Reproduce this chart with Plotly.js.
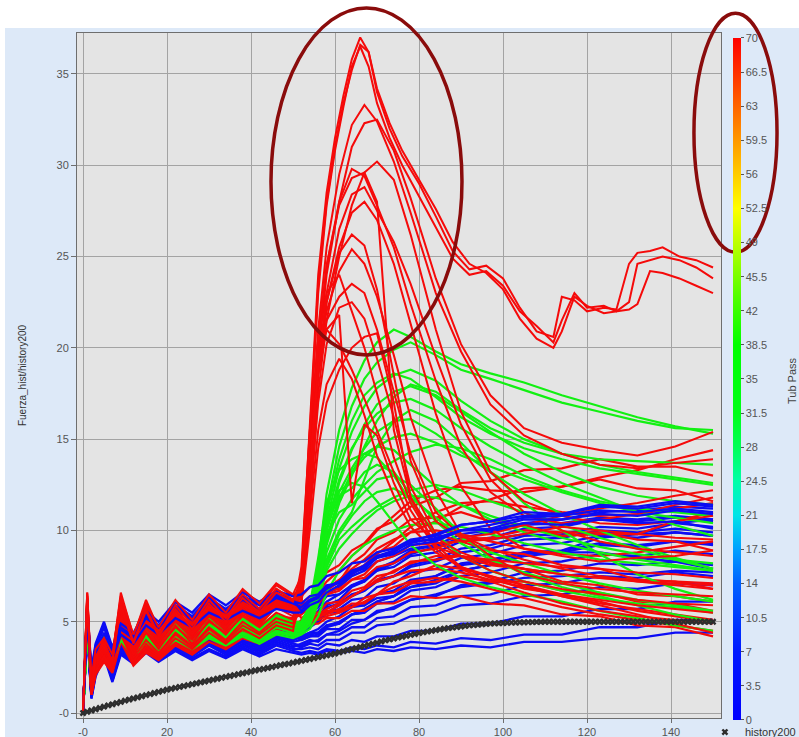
<!DOCTYPE html>
<html><head><meta charset="utf-8">
<script src="https://cdn.plot.ly/plotly-3.0.1.min.js"></script>
<style>html,body{margin:0;padding:0;background:#fff}</style>
</head><body><div id="chart" style="width:799px;height:737px"></div>
<script>
// shared sample grid for most cases
const X_MAIN = [0,1,2,3,5,7,9,12,15,18,22,26,30,34,38,42,46,50,52,54,56,58,61,64,67,70,74,78,84,90,97,105,114,123,132,141,150];
// finer grid for the three plateau cases
const X_PLATEAU = [0,1,2,3,5,7,9,12,15,18,22,26,30,34,38,42,46,50,52,54,56,58,60,62,64,66,68,70,73,76,80,84,88,92,96,100,104,108,112,114,117,120,124,127,130,132,135,138,142,146,150];

const RED_PLATEAU_CASES = [
 [0,6.6,1.9,3.5,4.1,3.2,6.4,4.3,6.0,4.7,6.2,5.1,6.5,5.5,6.8,6.0,7.1,6.5, 7.5,16,24,28.5,31.5,33.8,35.8,37,36.2,34,32,30.5,29,27.2,25.3,24.3,24.5,23.8,22.2,20.9,20.6,22.8,22.6,22,22.2,22.1,24.6,25.2,25.3,25.5,25,24.8,24.4],
 [0,6.4,1.5,3.1,3.8,2.9,6.0,3.9,5.7,4.3,5.9,4.8,6.2,5.2,6.5,5.7,6.8,6.2, 7,15,23,27.8,30.8,33.2,35.4,36.5,35.4,33.4,31.5,30,28.3,26.6,24.9,24,24.2,23.4,22,21.2,20.3,21.5,23,22.2,22.3,22,22.5,24.6,24.8,25,24.8,24.4,23.8],
 [0,6.1,1.3,3.0,3.6,2.8,5.9,3.8,5.6,4.2,5.7,4.6,6.0,5.0,6.3,5.5,6.6,6.1, 7.2,15.5,23.5,28,31,33.4,35.2,36.6,36.2,34.2,32.3,30.8,29.2,27.6,25.8,24.6,24.1,23.2,21.6,20.5,20,20.9,22.8,22.3,21.9,22,22.1,22.4,24.2,24.1,23.8,23.4,23]
];

const RED_PEAK_CASES = [
 [0,6.6,1.6,3.4,4.0,3.0,6.6,4.2,6.2,4.6,6.1,5.0,6.4,5.4,6.7,5.9,7.0,6.4, 7,14,21,25.5,29.5,32.2,33.3,32.4,30.2,27.4,23,19.8,16.9,15.2,14.2,13.6,13.4,13.7,13.9],
 [0,6.2,1.2,2.9,3.6,2.7,5.8,3.6,5.4,4.1,5.6,4.5,5.9,5.1,6.2,5.5,6.5,6.0, 6.5,12.5,19.5,24,28,31,32.3,32.5,30.8,28.2,23.8,20.2,17.4,15.6,14.8,14.4,14.1,14.6,15.4],
 [0,5.8,1.5,2.6,3.3,2.5,4.9,3.1,4.4,3.5,4.8,3.8,5.1,4.3,5.4,4.8,5.8,5.3, 6.8,13,20,24.5,28,29.8,29.4,27.8,25.5,22.4,18.2,14.6,12.1,10.8,10.4,10.6,10.9,11.4,11.8],
 [0,6.4,2.0,3.1,3.8,3.3,6.1,3.9,5.8,4.4,5.3,4.7,6.0,5.0,5.7,5.3,6.2,5.8, 6,11,17.5,21.5,25,27.8,29.6,30.2,29.2,26.2,21,16.5,13.2,11.6,10.8,10.4,10.3,10.5,10.8],
 [0,5.5,1.1,2.4,3.0,2.4,4.4,2.9,3.6,3.1,4.1,3.5,4.4,3.8,4.6,4.1,4.8,4.5, 6.9,13.5,20.5,24.5,27.8,29.3,29.6,28,15.5,11.8,9.6,8.8,8.2,7.9,7.6,7.4,7.2,7.1,7.0],
 [0,6.0,1.4,3.2,3.9,2.9,6.3,4.0,5.6,4.3,5.8,4.6,6.1,5.2,6.4,5.6,6.6,6.2, 6.4,12,18.5,22.5,25.5,27.4,28,27,24.6,21.3,16.4,12.4,10.1,9,8.6,8.3,8.5,8.6,8.9],
 [0,6.5,1.8,3.0,3.5,2.6,5.2,3.4,4.9,3.8,5.2,4.2,5.5,4.6,5.9,5.0,6.1,5.7, 7.2,14,19.5,22,24.2,25.4,24.6,22.8,19.6,16.2,12.2,9.8,8.6,7.6,7.1,6.8,6.6,6.5,6.4],
 [0,5.9,1.3,2.7,3.4,2.8,5.5,3.5,5.1,4.0,5.4,4.4,5.7,4.8,6.0,5.2,6.3,5.9, 7.5,15,20.5,23,24,22,20,17.5,14,11.5,9.2,8,7.4,6.8,6.5,6.2,5.9,5.7,5.5],
 [0,6.3,1.7,3.3,3.7,3.1,5.9,3.8,5.5,4.2,5.5,4.8,5.8,5.0,6.1,5.4,6.4,5.8, 6.7,13,18.5,21,21.8,11.5,15.8,15.2,12.6,10.6,9.4,8.6,7.8,7.2,6.8,6.5,6.2,6,5.9],
 [0,6.1,1.4,2.8,3.6,2.7,5.0,3.3,4.7,3.7,5.0,4.1,5.3,4.5,5.6,4.9,5.9,5.5, 8,15.5,19.8,21,20.2,18.8,17.2,15.5,13.2,11.1,9,7.9,7.2,6.6,6,5.6,5.3,5.1,4.9],
 [0,5.7,1.2,2.5,3.2,2.6,4.6,3.0,4.0,3.3,4.4,3.7,4.7,4.0,5.0,4.4,5.2,4.9, 6.2,11,15.5,18,19.4,18.3,16.3,14.1,11.9,10.2,8.8,8,7.5,7,6.4,5.9,5.4,4.9,4.4],
 [0,6.0,1.5,3.0,3.7,2.8,5.7,3.7,5.3,4.0,5.5,4.4,5.8,4.9,6.0,5.3,6.3,5.9, 6.6,12.5,18.5,22.5,25.2,26.2,25.6,23.2,18.5,13.8,10.5,9.6,9.8,10.3,10.8,11.2,11.5,11.9,12.2],
 [0,5.6,1.3,2.6,3.4,2.5,4.8,3.2,4.5,3.6,4.7,4.0,5.0,4.4,5.3,4.7,5.5,5.1, 6.3,11.5,17,20.2,22.2,22.5,21.6,19.4,16.2,12.4,9.8,9.4,9.5,9.8,10.2,10,9.8,9.6,9.5],
 [0,5.4,1.1,2.3,3.1,2.4,4.3,2.8,3.8,3.2,4.3,3.6,4.6,3.9,4.8,4.3,5.0,4.7, 6,10,14.5,17,18.8,20,20.6,20.8,17,11.8,9.1,8.6,8.4,8.2,8,7.9,7.7,7.6,7.4],
 [0,6.3,1.6,3.3,3.9,3.1,6.2,4.1,5.9,4.5,5.9,4.9,6.2,5.3,6.5,5.7,6.8,6.2, 6.5,12,19,23,26.5,28.4,28.8,27.5,25.8,23.5,19.5,15.8,12.8,11,10,9.4,9,8.8,8.6],
 [0,5.9,1.4,2.8,3.5,2.7,5.3,3.5,5.0,3.9,5.1,4.3,5.4,4.7,5.7,5.1,6.0,5.6, 7,13.5,19,21.5,22.8,23.5,23,21,17.6,14.2,11,9.7,9,8.4,7.9,7.5,7.2,7,6.8]
];

const RED_RISE_CASES = [
 [0,6.0,1.7,3.1,3.7,3.0,5.6,3.8,5.2,4.2,5.4,4.6,5.7,5.0,6.0,5.4,6.2,6.0, 6.4,6.9,7.1,7.7,8.1,8.9,9.3,10.1,10.5,11.3,11.8,12.6,12.7,13.3,13.4,13.9,13.5,13.5,13.0],
 [0,5.6,1.3,2.7,3.4,2.6,4.9,3.3,4.6,3.7,4.9,4.1,5.2,4.5,5.5,4.9,5.8,5.6, 6,6.4,6.5,6.9,7.2,7.8,8.1,8.8,9.1,9.9,10.5,11.3,11.7,12.3,12.4,12.8,12.3,12.2,11.6],
 [0,5.9,1.5,2.9,3.6,2.9,5.3,3.6,5.0,4.0,5.2,4.4,5.5,4.8,5.8,5.2,6.0,5.7, 5.9,6.2,6.2,6.7,6.8,7.3,7.4,8.0,8.2,8.8,9.0,9.5,9.6,10.0,9.9,9.9,9.5,9.4,8.9],
 [0,5.3,1.0,2.2,2.9,2.3,4.1,2.7,3.5,3.0,3.9,3.4,4.2,3.7,4.4,4.0,4.7,4.6, 5.1,5.3,5.3,5.6,5.6,6.0,6.0,6.5,6.6,7.1,7.2,7.5,7.2,7.2,6.7,6.6,6.1,6.0,5.6],
 [0,5.1,1.0,2.1,2.8,2.2,3.9,2.6,3.3,2.9,3.7,3.2,3.9,3.5,4.1,3.8,4.3,4.4, 4.7,4.9,4.9,5.2,5.2,5.6,5.6,6.0,6.0,6.4,6.3,6.4,6.0,5.9,5.4,5.3,4.8,4.7,4.2],
 [0,5.7,1.4,2.8,3.5,2.8,5.1,3.5,4.8,3.9,5.0,4.3,5.3,4.7,5.6,5.0,5.8,5.5, 5.6,5.9,6.0,6.5,6.7,7.3,7.6,8.3,8.6,9.2,9.3,9.4,8.9,8.7,8.1,7.9,7.3,7.2,6.8],
 [0,5.5,1.2,2.6,3.3,2.6,4.7,3.2,4.3,3.6,4.6,4.0,4.9,4.3,5.1,4.6,5.3,5.2, 5.4,5.8,6.0,6.7,7.2,8.2,8.7,9.5,9.9,10.6,10.7,11.0,10.5,10.3,9.7,9.8,9.8,10.5,11.0],
 [0,5.8,1.6,3.0,3.6,2.9,5.4,3.7,5.1,4.1,5.3,4.5,5.6,4.9,5.9,5.3,6.1,5.8, 5.2,5.5,5.5,6.0,6.1,6.7,6.9,7.5,7.7,8.3,8.4,8.6,8.1,7.9,7.2,7.0,6.5,6.4,6.1],
 [0,5.4,1.1,2.4,3.1,2.5,4.5,3.0,4.0,3.4,4.4,3.8,4.7,4.1,4.9,4.4,5.1,5.0, 5.0,5.1,5.3,5.4,5.7,5.8,6.3,6.5,7.2,7.5,8.1,7.9,7.5,7.0,6.5,6.1,5.6,5.3,5.0],
 [0,5.6,1.4,2.8,3.5,2.8,5.0,3.4,4.7,3.8,5.0,4.2,5.3,4.6,5.6,5.0,5.8,5.5, 5.8,6.2,6.6,7.2,7.8,8.6,9.2,10.0,10.8,11.6,12.2,12.4,12.2,12.1,12.4,12.9,13.3,13.9,14.4],
 [0,5.9,1.6,3.0,3.7,3.0,5.5,3.7,5.2,4.1,5.4,4.5,5.7,4.9,6.0,5.3,6.2,5.9, 5.7,6.0,6.3,6.8,7.3,7.9,8.4,9.0,9.5,9.9,10.0,9.8,9.4,9.0,8.7,8.6,8.8,9.1,9.4],
 [0,5.2,1.0,2.2,2.9,2.3,4.0,2.7,3.4,3.0,3.8,3.3,4.1,3.6,4.3,3.9,4.6,4.5, 4.8,5.0,5.2,5.5,5.9,6.4,6.8,7.3,7.8,8.2,8.6,8.6,8.3,7.9,7.6,7.4,7.3,7.2,7.1],
 [0,5.4,1.2,2.5,3.2,2.5,4.4,2.9,3.9,3.3,4.3,3.7,4.6,4.0,4.8,4.3,5.0,4.8, 5.0,5.2,5.4,5.7,6.0,6.4,6.8,7.2,7.5,7.8,7.9,7.7,7.3,6.9,6.4,6.0,5.7,5.4,5.1],
 [0,5.7,1.5,2.9,3.6,2.9,5.2,3.5,4.9,3.9,5.1,4.3,5.4,4.7,5.7,5.1,5.9,5.6, 5.5,5.8,6.1,6.5,7.0,7.6,8.1,8.7,9.4,10.2,11.0,11.5,11.6,11.3,11.0,10.8,10.9,11.2,11.5],
 [0,5.3,1.1,2.3,3.0,2.4,4.2,2.8,3.7,3.1,4.0,3.5,4.3,3.8,4.5,4.1,4.8,4.7, 4.9,5.0,5.1,5.3,5.5,5.8,6.1,6.5,6.9,7.2,7.4,7.2,6.8,6.3,5.8,5.4,5.1,4.8,4.5]
];

const GREEN_CASES = [
 [0,5.2,2.1,3.4,4.0,3.3,4.7,3.7,4.6,3.9,4.8,4.2,4.9,4.4,5.1,4.6,5.2,4.9, 5.0,5.8,8.2,12,15.5,17.8,19.3,20.3,21.0,20.6,19.8,19.1,18.6,18.1,17.4,16.8,16.2,15.7,15.3],
 [0,4.8,1.8,3.0,3.7,3.0,4.4,3.5,4.3,3.7,4.5,3.9,4.6,4.1,4.7,4.3,4.9,4.6, 4.8,5.5,7.8,11.2,14.6,16.8,18.3,19.2,19.9,20.3,19.6,18.8,18.3,17.7,17.0,16.5,16.0,15.6,15.5],
 [0,5.0,2.3,3.6,4.2,3.5,5.0,3.9,4.9,4.1,5.0,4.4,5.2,4.6,5.3,4.8,5.4,5.0, 4.9,5.6,7.5,10.5,13.4,15.4,16.8,17.8,18.5,18.8,18.2,17.1,16.0,15.0,14.2,13.6,13.2,12.9,12.6],
 [0,4.6,1.6,2.9,3.5,2.9,4.2,3.3,4.0,3.5,4.2,3.7,4.3,3.9,4.4,4.0,4.5,4.3, 4.7,5.3,7.2,10.2,12.8,14.5,15.6,16.4,17.0,17.2,16.6,15.6,14.6,13.6,12.6,11.8,11.0,10.3,9.7],
 [0,4.9,2.0,3.2,3.9,3.1,4.6,3.6,4.4,3.8,4.6,4.0,4.7,4.2,4.9,4.4,5.0,4.7, 4.6,5.2,6.8,9.6,11.8,13.1,14.0,14.6,15.1,15.3,14.8,14.1,13.5,12.8,12.1,11.5,11.0,10.7,10.4],
 [0,5.1,2.2,3.5,4.1,3.4,4.9,3.8,4.7,4.0,4.9,4.3,5.0,4.5,5.2,4.7,5.3,5.0, 5.0,5.9,8.5,11.5,13.3,13.9,14.2,14.0,13.0,11.6,9.8,8.6,7.8,7.2,6.7,6.3,6.0,5.8,5.5],
 [0,4.7,1.7,3.0,3.6,2.9,4.3,3.4,4.1,3.6,4.3,3.8,4.4,4.0,4.6,4.1,4.7,4.4, 4.5,5.0,6.4,8.8,10.6,11.7,12.5,13.2,13.8,14.3,14.7,14.5,13.9,13.0,12.2,11.6,11.2,11.0,10.8],
 [0,5.0,2.1,3.3,4.0,3.2,4.8,3.7,4.5,3.9,4.7,4.1,4.8,4.3,5.0,4.5,5.1,4.8, 4.8,5.4,7.0,9.8,11.0,11.4,12.1,12.8,13.0,12.5,11.2,9.8,8.5,7.6,6.9,6.4,5.9,5.4,5.0],
 [0,4.5,1.5,2.8,3.4,2.8,4.1,3.2,3.9,3.4,4.1,3.6,4.2,3.8,4.3,3.9,4.4,4.2, 4.4,4.8,6.0,8.0,9.5,10.2,10.8,11.3,11.8,12.2,12.5,12.2,11.6,11.0,10.3,9.6,9.0,8.4,7.9],
 [0,4.9,1.9,3.2,3.8,3.1,4.5,3.6,4.4,3.7,4.5,4.0,4.7,4.2,4.8,4.4,5.0,4.6, 4.7,5.2,6.4,8.4,10.0,11.0,12.8,14.6,16.0,16.6,16.0,14.8,13.2,11.5,10.0,8.7,7.6,6.8,6.2],
 [0,4.4,1.4,2.7,3.3,2.7,4.0,3.1,3.8,3.3,4.0,3.5,4.1,3.7,4.2,3.8,4.3,4.1, 4.3,4.6,5.3,6.6,7.8,8.6,9.2,9.6,10.0,10.3,10.4,10.2,9.8,9.3,8.8,8.4,8.2,8.0,7.8],
 [0,5.0,2.2,3.4,4.1,3.3,4.8,3.8,4.6,4.0,4.8,4.2,4.9,4.4,5.1,4.6,5.2,4.9, 4.9,5.7,7.9,10.8,12.2,12.6,12.4,11.6,10.4,9.2,8.1,7.4,6.9,6.5,6.1,5.6,5.2,4.8,4.5],
 [0,4.7,1.8,3.1,3.7,3.0,4.4,3.5,4.2,3.6,4.4,3.9,4.5,4.0,4.7,4.2,4.8,4.5, 4.6,5.1,6.7,9.2,11.5,13.0,14.6,16.0,17.3,18.0,17.6,16.6,15.6,14.8,14.2,13.9,13.8,13.7,13.6],
 [0,4.8,1.9,3.1,3.8,3.1,4.5,3.5,4.3,3.8,4.5,4.0,4.6,4.2,4.8,4.3,4.9,4.6, 4.6,5.0,6.2,8.2,9.8,10.8,11.6,12.1,12.3,11.8,10.7,9.6,8.8,8.2,7.6,7.1,6.7,6.4,6.1],
 [0,4.6,1.7,3.0,3.6,3.0,4.3,3.4,4.1,3.6,4.3,3.8,4.4,4.0,4.6,4.1,4.7,4.4, 4.5,5.3,7.6,10.9,13.9,16.0,17.4,18.1,18.6,18.3,17.3,16.2,15.3,14.5,13.9,13.4,13.1,12.8,12.5],
 [0,5.1,2.0,3.3,4.0,3.2,4.7,3.6,4.5,3.9,4.7,4.1,4.8,4.3,5.0,4.5,5.1,4.8, 4.9,5.6,7.4,10.0,12.1,13.4,14.5,15.4,16.0,16.1,15.3,14.3,13.2,12.0,10.9,10.0,9.2,8.5,7.9],
 [0,4.9,1.9,3.2,3.8,3.1,4.5,3.5,4.3,3.7,4.5,3.9,4.6,4.1,4.8,4.3,4.9,4.6, 4.7,5.4,7.3,10.4,11.9,12.3,13.2,13.6,13.2,12.0,10.5,9.3,8.4,7.7,7.1,6.6,6.2,5.9,5.6],
 [0,4.7,1.8,3.1,3.7,3.0,4.4,3.4,4.2,3.6,4.4,3.8,4.5,4.0,4.7,4.2,4.8,4.5, 4.6,5.2,7.0,10.0,12.6,14.4,15.8,16.9,17.6,17.9,17.4,16.5,15.4,14.2,13.2,12.4,11.9,11.6,11.4],
 [0,5.0,2.0,3.3,3.9,3.2,4.6,3.6,4.4,3.8,4.6,4.0,4.7,4.2,4.9,4.4,5.0,4.7, 4.7,5.1,6.2,7.8,9.0,9.8,10.5,11.1,11.6,11.9,11.8,11.4,10.8,10.2,9.6,9.1,8.7,8.4,8.2],
 [0,4.5,1.6,2.9,3.5,2.9,4.2,3.3,4.0,3.5,4.2,3.7,4.3,3.9,4.4,4.0,4.5,4.3, 4.4,5.0,6.8,9.4,11.6,13.2,14.2,14.6,14.4,13.6,12.4,11.4,10.6,9.9,9.3,8.8,8.4,8.1,7.8]
];

// blue cases that run along the bottom of the band before the jump
const BLUE_LOW_CASES = [
 [0,5.2,1.3,2.7,3.8,2.2,3.9,3.4,4.1,3.6,4.3,3.8,4.5,4.0,4.6,4.2,4.8,4.6, 5.0,5.5,5.8,6.4,6.5,7.0,7.2,7.8,8.0,8.6,8.8,9.4,9.6,10.1,10.2,10.6,10.5,10.7,10.5],
 [0,5.0,1.2,2.6,3.7,2.1,3.8,3.3,3.9,3.5,4.1,3.7,4.3,3.9,4.4,4.1,4.6,4.4, 4.7,5.1,5.3,5.8,6.0,6.5,6.7,7.3,7.5,8.1,8.4,9.0,9.2,9.7,9.8,10.2,10.1,10.4,10.2],
 [0,4.9,1.1,2.5,3.6,2.0,3.7,3.2,3.8,3.3,3.9,3.5,4.1,3.7,4.2,3.9,4.4,4.2, 4.5,4.8,5.0,5.5,5.7,6.2,6.3,6.9,7.1,7.7,7.9,8.5,8.7,9.2,9.3,9.7,9.6,9.9,9.7],
 [0,4.8,1.0,2.4,3.5,1.9,3.6,3.1,3.7,3.2,3.8,3.4,4.0,3.6,4.1,3.8,4.3,4.0, 4.2,4.4,4.6,5.0,5.3,5.8,5.9,6.5,6.7,7.3,7.5,8.1,8.3,8.8,8.9,9.3,9.2,9.4,9.2],
 [0,4.9,1.0,2.4,3.5,1.9,3.6,3.1,3.7,3.2,3.8,3.3,3.9,3.4,4.0,3.6,4.1,3.9, 4.0,4.2,4.3,4.7,4.9,5.4,5.5,6.0,6.1,6.7,6.9,7.5,7.7,8.2,8.3,8.7,8.6,8.9,8.7],
 [0,4.9,1.1,2.5,3.7,2.1,3.6,3.2,3.9,3.5,4.1,3.7,4.3,3.9,4.4,4.1,4.4,4.2, 4.0,4.2,4.2,4.6,4.6,5.1,5.1,5.6,5.7,6.2,6.4,7.0,7.2,7.7,7.8,8.2,8.1,8.3,8.1],
 [0,4.8,0.9,2.3,3.4,1.8,3.5,3.0,3.6,3.1,3.7,3.2,3.8,3.3,3.8,3.4,3.9,3.6, 3.8,4.0,3.9,4.3,4.3,4.7,4.7,5.2,5.3,5.8,5.9,6.4,6.5,7.0,7.1,7.5,7.4,7.7,7.5],
 [0,4.9,1.0,2.4,3.5,1.9,3.6,3.1,3.7,3.2,3.8,3.3,3.9,3.4,3.9,3.5,4.0,3.7, 3.6,3.8,3.7,4.0,4.0,4.4,4.4,4.8,4.9,5.3,5.4,5.9,6.0,6.4,6.5,6.9,6.8,7.1,7.0],
 [0,4.7,0.9,2.2,3.3,1.9,3.4,2.9,3.5,3.0,3.6,3.1,3.7,3.2,3.7,3.3,3.8,3.5, 3.5,3.6,3.5,3.8,3.7,4.0,3.9,4.2,4.2,4.5,4.5,4.9,4.9,5.3,5.3,5.7,5.7,6.1,6.1],
 [0,4.6,0.8,2.1,3.2,1.8,3.3,2.8,3.4,2.9,3.5,3.0,3.5,3.1,3.6,3.2,3.7,3.4, 3.3,3.4,3.3,3.5,3.4,3.6,3.5,3.7,3.6,3.9,3.8,4.1,4.0,4.3,4.3,4.7,4.7,5.1,5.1],
 [0,4.5,0.8,2.0,3.1,1.7,3.2,2.7,3.3,2.8,3.4,2.9,3.4,3.0,3.5,3.1,3.5,3.3, 3.2,3.3,3.2,3.4,3.3,3.4,3.3,3.5,3.4,3.6,3.5,3.7,3.6,3.9,3.9,4.1,4.1,4.4,4.4],
 [0,5.0,1.1,2.5,3.6,2.0,3.7,3.2,3.8,3.4,4.0,3.6,4.2,3.8,4.3,4.0,4.5,4.3, 4.8,5.1,5.1,5.5,5.5,5.9,5.9,6.3,6.4,6.9,7.1,7.8,8.1,8.7,8.9,9.6,9.8,10.4,10.6],
 [0,4.8,1.0,2.3,3.4,1.8,3.5,3.0,3.6,3.2,3.8,3.4,4.0,3.6,4.1,3.8,4.2,4.0, 4.2,4.4,4.4,4.8,4.9,5.4,5.5,6.1,6.4,7.1,7.5,8.2,8.4,8.8,8.8,8.8,8.5,8.3,7.9],
 [0,5.1,1.2,2.6,3.7,2.1,3.8,3.3,3.9,3.5,4.1,3.7,4.3,3.9,4.5,4.2,4.7,4.5, 4.9,5.4,5.8,6.5,6.9,7.5,7.8,8.3,8.6,9.0,9.2,9.5,9.5,9.8,9.7,9.9,9.8,9.9,9.7],
 [0,4.9,1.0,2.4,3.5,1.9,3.6,3.1,3.8,3.3,3.9,3.5,4.1,3.7,4.2,3.9,4.4,4.2, 4.5,4.9,5.2,5.9,6.2,6.9,7.2,7.9,8.3,8.9,9.2,9.8,10.0,10.4,10.6,11.0,11.1,11.3,11.2],
 [0,5.0,1.2,2.6,3.6,2.0,3.7,3.2,3.9,3.4,4.0,3.6,4.2,3.8,4.3,4.0,4.5,4.3, 4.7,5.2,5.6,6.1,6.5,7.0,7.3,7.8,8.2,8.7,9.1,9.6,9.9,10.3,10.4,10.7,10.6,10.8,10.6],
 [0,4.8,1.0,2.3,3.4,1.8,3.5,3.0,3.6,3.1,3.7,3.3,3.9,3.5,4.0,3.7,4.2,4.0, 4.3,4.7,5.0,5.5,5.9,6.4,6.7,7.2,7.5,8.0,8.3,8.8,9.0,9.5,9.6,10.0,9.9,10.1,9.9],
 [0,4.9,1.1,2.5,3.6,2.1,3.6,3.2,3.9,3.5,4.1,3.7,4.3,3.9,4.4,4.0,4.5,4.2, 4.1,4.3,4.4,4.8,5.0,5.4,5.7,6.1,6.4,6.9,7.3,7.8,8.1,8.6,8.8,9.2,9.1,9.4,9.3],
 [0,4.7,0.9,2.3,3.4,1.9,3.4,3.0,3.6,3.2,3.8,3.4,3.9,3.5,4.0,3.6,4.1,3.8, 3.7,3.9,4.0,4.3,4.5,4.9,5.1,5.5,5.8,6.2,6.5,6.9,7.1,7.4,7.5,7.7,7.6,7.8,7.7]
];

// blue cases along the top of the band
const BLUE_HIGH_CASES = [
 [0,5.8,2.4,3.8,5.0,3.6,4.9,4.4,5.6,5.0,6.1,5.5,6.5,5.9,6.6,6.1,6.7,6.4, 6.5,6.9,7.0,7.5,7.7,8.2,8.3,8.8,9.0,9.5,9.7,10.3,10.5,11.0,10.9,11.4,11.3,11.6,11.4],
 [0,5.6,2.0,3.6,4.8,3.4,4.6,4.1,5.3,4.7,5.8,5.2,6.2,5.6,6.3,5.9,6.4,6.1, 6.0,6.4,6.5,7.0,7.1,7.7,7.9,8.5,8.7,9.2,9.4,10.0,10.1,10.6,10.6,10.9,10.8,11.1,10.9],
 [0,5.7,2.2,3.7,4.9,3.5,4.7,4.2,5.4,4.8,5.9,5.3,6.3,5.7,6.4,6.0,6.5,6.2, 5.6,6.1,6.3,6.9,7.2,7.8,8.0,8.6,8.8,9.4,9.5,10.0,10.0,10.4,10.3,10.6,10.4,10.5,10.1],
 [0,5.6,2.1,3.5,4.7,3.3,4.6,4.1,5.2,4.7,5.7,5.1,6.0,5.5,6.2,5.7,6.3,6.0, 5.8,6.2,6.4,6.8,7.2,7.7,8.1,8.6,8.9,9.3,9.6,10.0,10.3,10.7,10.8,11.1,11.0,11.2,11.0],
 [0,5.4,1.8,3.3,4.4,3.0,4.3,3.8,4.8,4.3,5.2,4.7,5.5,5.1,5.6,5.2,5.7,5.5, 5.5,5.9,6.1,6.6,7.0,7.6,8.0,8.5,8.9,9.4,9.8,10.3,10.5,10.8,10.9,11.3,11.2,11.5,11.3]
];

// history200 reference curve, one value per unit of x (0..150)
const HISTORY200 = [0,0.07,0.14,0.21,0.28,0.35,0.42,0.48,0.55,0.61,0.68,
 0.74,0.8,0.86,0.92,0.98,1.04,1.1,1.16,1.22,1.28,
 1.33,1.38,1.43,1.48,1.53,1.58,1.63,1.68,1.73,1.78,
 1.83,1.88,1.93,1.98,2.03,2.08,2.13,2.18,2.23,2.28,
 2.33,2.38,2.42,2.47,2.52,2.57,2.62,2.67,2.71,2.76,
 2.81,2.86,2.91,2.96,3.01,3.06,3.11,3.16,3.21,3.26,
 3.32,3.38,3.44,3.5,3.56,3.62,3.68,3.74,3.8,3.86,
 3.92,3.98,4.03,4.08,4.13,4.18,4.23,4.28,4.33,4.38,
 4.42,4.46,4.5,4.54,4.58,4.62,4.65,4.68,4.71,4.74,
 4.77,4.8,4.82,4.84,4.86,4.88,4.9,4.91,4.92,4.93,
 4.94,4.95,4.96,4.97,4.97,4.98,4.98,4.99,4.99,5,
 5,5,5,5,5,5,5,5,5,5,
 5,5,5,5,5,5,5,5,5,5,
 5,5,5,5,5,5,5,5,5,5,
 5,5,5,5,5,5,5,5,5,5];
const X_HISTORY = HISTORY200.map((_, i) => i);

const X_TICKS = [0,20,40,60,80,100,120,140];
const X_TICK_TEXT = ['-0','20','40','60','80','100','120','140'];
const Y_TICKS = [0,5,10,15,20,25,30,35];
const Y_TICK_TEXT = ['-0','5','10','15','20','25','30','35'];
const CB_TICKS = [0,3.5,7,10.5,14,17.5,21,24.5,28,31.5,35,38.5,42,45.5,49,52.5,56,59.5,63,66.5,70];
const CB_TICK_TEXT = ['0','3.5','7','10.5','14','17.5','21','24.5','28','31.5','35','38.5','42','45.5','49','52.5','56','59.5','63','66.5','70'];

const RED = '#f50a0a', GREEN = '#12f012', BLUE = '#0c0cf5';
const traces = [];
function addGroup(cases, xs, color, width) {
  cases.forEach(ys => traces.push({
    type: 'scatter', mode: 'lines', x: xs, y: ys,
    line: {color: color, width: width},
    hoverinfo: 'skip', showlegend: false
  }));
}
addGroup(BLUE_LOW_CASES, X_MAIN, BLUE, 2.3);
addGroup(RED_RISE_CASES, X_MAIN, RED, 2.2);
addGroup(GREEN_CASES, X_MAIN, GREEN, 2.2);
addGroup(RED_PEAK_CASES, X_MAIN, RED, 2);
addGroup(BLUE_HIGH_CASES, X_MAIN, BLUE, 2.3);
addGroup(RED_PLATEAU_CASES, X_PLATEAU, RED, 2);

traces.push({
  type: 'scatter', mode: 'markers', name: 'history200',
  x: X_HISTORY, y: HISTORY200,
  marker: {symbol: 'x', size: 6, color: '#2e2e2e', line: {width: 0}},
  hoverinfo: 'skip', showlegend: true
});

// colour scale holder (values outside the axis range, only the colour bar shows)
traces.push({
  type: 'scatter', mode: 'markers', x: [-50, -50], y: [-50, -50],
  showlegend: false, hoverinfo: 'skip',
  marker: {
    color: [0, 70], cmin: 0, cmax: 70, size: 1,
    colorscale: [
      [0, '#0000ff'], [0.1, '#0018ff'], [0.2, '#0060ff'], [0.25, '#00a0ff'],
      [0.3, '#00e4e8'], [0.35, '#00ffa8'], [0.4, '#00ff58'], [0.45, '#00ff18'],
      [0.55, '#00ff00'], [0.62, '#50ff00'], [0.69, '#b0ff00'], [0.75, '#ffff00'],
      [0.8, '#ffcc00'], [0.85, '#ff9800'], [0.9, '#ff6400'], [0.95, '#ff3000'], [1, '#ff0000']
    ],
    showscale: true,
    colorbar: {
      x: 1.0186, xanchor: 'left', xpad: 0, ypad: 0,
      y: 0.4949, yanchor: 'middle', lenmode: 'pixels', len: 682,
      thickness: 8, outlinewidth: 0, borderwidth: 0,
      tickmode: 'array', tickvals: CB_TICKS, ticktext: CB_TICK_TEXT,
      ticks: 'outside', ticklen: 3, tickcolor: '#555',
      tickfont: {size: 11, color: '#555', family: 'Liberation Sans, Arial, sans-serif'}
    }
  }
});

const axisCommon = {
  showgrid: true, gridcolor: '#a3a3a3', gridwidth: 1, zeroline: false,
  showline: true, linecolor: '#6e6e6e', linewidth: 1, mirror: true,
  ticks: 'outside', tickcolor: '#6e6e6e',
  tickfont: {size: 11, color: '#555', family: 'Liberation Sans, Arial, sans-serif'},
  tickmode: 'array'
};

const layout = {
  width: 799, height: 737, autosize: false,
  margin: {l: 77, r: 78, t: 33, b: 19, pad: 0, autoexpand: false},
  paper_bgcolor: '#dde9f8',
  plot_bgcolor: '#e4e4e4',
  font: {family: 'Liberation Sans, Arial, sans-serif', size: 11, color: '#555'},
  showlegend: true,
  legend: {x: 0.975, xanchor: 'left', y: -0.0205, yanchor: 'middle',
           bgcolor: 'rgba(0,0,0,0)', borderwidth: 0, tracegroupgap: 0,
           font: {size: 11, color: '#333'}},
  xaxis: Object.assign({}, axisCommon, {range: [-1.43, 151.9], tickvals: X_TICKS, ticktext: X_TICK_TEXT, ticklen: 4}),
  yaxis: Object.assign({}, axisCommon, {range: [-0.27, 37.24], tickvals: Y_TICKS, ticktext: Y_TICK_TEXT, ticklen: 5,
    title: {text: 'Fuerza_hist/history200', font: {size: 10, color: '#333'}, standoff: 28}}),
  shapes: [
    {type: 'rect', xref: 'paper', yref: 'paper', x0: -0.13, x1: 1.13, y0: 1.0073, y1: 1.06,
     fillcolor: '#ffffff', line: {width: 0}, layer: 'below'},
    {type: 'rect', xref: 'paper', yref: 'paper', x0: -0.13, x1: -0.1118, y0: -0.04, y1: 1.0073,
     fillcolor: '#ffffff', line: {width: 0}, layer: 'below'},
    {type: 'circle', xref: 'paper', yref: 'paper', x0: 0.3012, x1: 0.5978, y0: 0.530, y1: 1.0365,
     line: {color: '#8a0c0c', width: 3.5}, fillcolor: 'rgba(0,0,0,0)', layer: 'above'},
    {type: 'circle', xref: 'paper', yref: 'paper', x0: 0.958, x1: 1.087, y0: 0.680, y1: 1.029,
     line: {color: '#8a0c0c', width: 3.5}, fillcolor: 'rgba(0,0,0,0)', layer: 'above'}
  ],
  annotations: [
    {text: 'Tub Pass', xref: 'paper', yref: 'paper', x: 1.1102, y: 0.4934,
     xanchor: 'center', yanchor: 'middle', textangle: -90, showarrow: false,
     font: {size: 11, color: '#444'}}
  ]
};

Plotly.newPlot('chart', traces, layout, {staticPlot: true, displayModeBar: false});
</script>
</body></html>
